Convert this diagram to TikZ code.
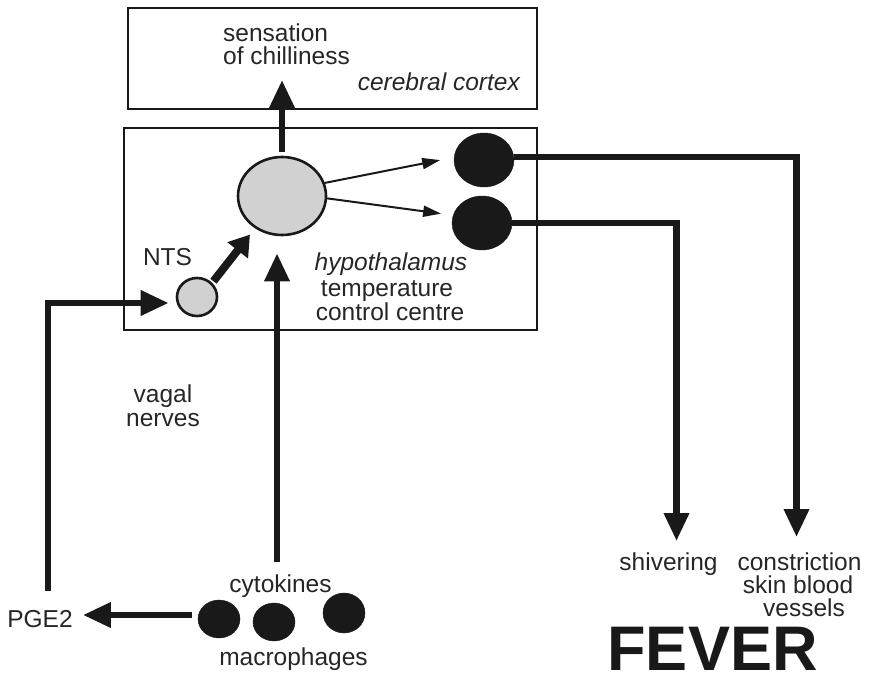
\documentclass[tikz,border=0pt]{standalone}
\usepackage{fontspec}
\setmainfont{Liberation Sans}
\usetikzlibrary{arrows.meta,shapes.geometric}
\begin{document}
\begin{tikzpicture}[x=1pt,y=-1pt,
  lbl/.style={font=\fontsize{24.5}{24}\selectfont, inner sep=0pt, anchor=base, text=black!85},
  boxframe/.style={draw=black!90, line width=2.8pt, inner sep=0pt},
  graycell/.style={ellipse, draw=black!90, line width=2.6pt, fill=black!18, inner sep=0pt},
  blackcell/.style={ellipse, fill=black!90, draw=black!90, inner sep=0pt},
  thickarrow/.style={draw=black!90, line width=6.5pt, -{Triangle[length=28pt,width=24pt]}},
  thinarrow/.style={draw=black!90, line width=2pt, -{Triangle[length=18pt,width=11pt]}},
  ntsarrow/.style={draw=black!90, line width=8pt, -{Triangle[length=20pt,width=25pt]}},
]
\useasboundingbox (0,0) rectangle (869,682);

% boxes
\node[boxframe, minimum width=409pt, minimum height=101pt] (cortex) at (332.5,58.5) {};
\node[boxframe, minimum width=413pt, minimum height=202pt] (hyp) at (330.5,229) {};

% cells
\node[graycell, minimum width=88pt, minimum height=78pt] (hub) at (282,196) {};
\node[graycell, minimum width=40pt, minimum height=38pt] (nts) at (197,297) {};
\node[blackcell, minimum width=60pt, minimum height=54pt] (e1) at (484,160) {};
\node[blackcell, minimum width=60pt, minimum height=54pt] (e2) at (482,223) {};
\node[blackcell, minimum width=42pt, minimum height=38pt] (m1) at (219,619) {};
\node[blackcell, minimum width=42pt, minimum height=38pt] (m2) at (274,622) {};
\node[blackcell, minimum width=42pt, minimum height=40pt] (m3) at (344,613) {};

% labels
\node[lbl, anchor=base west] (sens1) at (223,42) {sensation};
\node[lbl, anchor=base west] (sens2) at (223,65) {of chilliness};
\node[lbl, anchor=base east, font=\fontsize{24.5}{24}\selectfont\itshape] (cc) at (520,91) {cerebral cortex};
\node[lbl] (ntslbl) at (167.5,265) {NTS};
\node[lbl, font=\fontsize{24.5}{24}\selectfont\itshape] (hyp1) at (391,270) {hypothalamus};
\node[lbl] (hyp2) at (387,296) {temperature};
\node[lbl] (hyp3) at (390,320) {control centre};
\node[lbl] (vag1) at (163,402) {vagal};
\node[lbl] (vag2) at (163,426) {nerves};
\node[lbl] (cyt) at (280.5,592) {cytokines};
\node[lbl] (mac) at (293.5,665) {macrophages};
\node[lbl] (pge) at (40,627) {PGE2};
\node[lbl] (shiv) at (668.5,570) {shivering};
\node[lbl] (con1) at (799.5,570) {constriction};
\node[lbl] (con2) at (798,593) {skin blood};
\node[lbl] (con3) at (804,616) {vessels};
\node[inner sep=0pt, anchor=base, text=black!90, font=\bfseries\fontsize{63}{63}\selectfont] (fever) at (712.5,670) {FEVER};

% connectors
\coordinate (ctip) at (282,80);
\draw[thickarrow, shorten <=4pt] (hub.north) -- (ctip);
\draw[thinarrow, shorten >=14pt] (hub.17) -- (e1.175);
\draw[thinarrow, shorten >=12pt] (hub.-3) -- (e2.165);
\draw[ntsarrow, shorten <=2pt, shorten >=8pt] (nts.43) -- (hub.230);
\draw[thickarrow, shorten >=7pt] ([xshift=8pt,yshift=19pt]pge.north) |- ([yshift=-6pt]nts.west);
\draw[thickarrow, shorten <=12pt, shorten >=17pt] ([xshift=-3.5pt]cyt.north) -- ([xshift=-3.5pt]cyt.north |- hub.south);
\draw[thickarrow, shorten <=6pt, shorten >=10pt] ([yshift=4pt]m1.west) -- ([yshift=4pt]m1.west -| pge.east);
\draw[thickarrow, shorten >=15pt] ([yshift=3pt]e1.east) -| ([xshift=-3pt]con1.north);
\draw[thickarrow, shorten >=11pt] (e2.east) -| ([xshift=8pt]shiv.north);
\end{tikzpicture}
\end{document}
